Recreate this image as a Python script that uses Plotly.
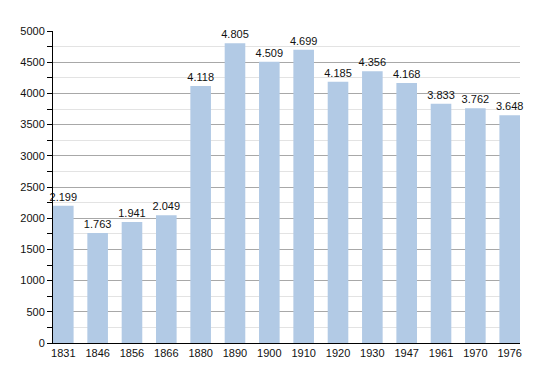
import plotly.graph_objects as go

years = ["1831", "1846", "1856", "1866", "1880", "1890", "1900", "1910", "1920", "1930", "1947", "1961", "1970", "1976"]
population = [2199, 1763, 1941, 2049, 4118, 4805, 4509, 4699, 4185, 4356, 4168, 3833, 3762, 3648]
y_ticks = [0, 500, 1000, 1500, 2000, 2500, 3000, 3500, 4000, 4500, 5000]

labels = [f"{v:,}".replace(",", ".") for v in population]
xpos = list(range(len(years)))

fig = go.Figure(go.Bar(
    x=xpos, y=population, width=0.6,
    marker=dict(color="#b2cae5", line=dict(width=0)),
    text=labels, textposition="outside", cliponaxis=False,
    textfont=dict(family="Liberation Sans, Arial, sans-serif", size=11, color="#111"),
))

fig.update_layout(
    width=542, height=365,
    margin=dict(l=42, r=30, t=23, b=30),
    paper_bgcolor="white", plot_bgcolor="white",
    showlegend=False, bargap=0.4,
    font=dict(family="Liberation Sans, Arial, sans-serif", size=11, color="#111"),
    uniformtext=dict(minsize=11, mode="show"),
)
fig.update_xaxes(
    tickmode="array", tickvals=xpos, ticktext=years,
    range=[-0.3, len(years) - 0.7],
    showline=True, linecolor="black", linewidth=1,
    ticks="", showgrid=False, zeroline=False,
    tickfont=dict(size=11),
)
fig.update_yaxes(
    range=[0, 5000], tickvals=y_ticks,
    showline=True, linecolor="black", linewidth=1,
    ticks="outside", ticklen=5, tickcolor="black",
    showgrid=True, gridcolor="#a8a8a8", gridwidth=1,
    zeroline=False,
    minor=dict(dtick=250, ticks="outside", ticklen=5, tickcolor="black",
               showgrid=True, gridcolor="#e3e3e3", gridwidth=1),
    tickfont=dict(size=11),
)

fig.write_html("out.html")
